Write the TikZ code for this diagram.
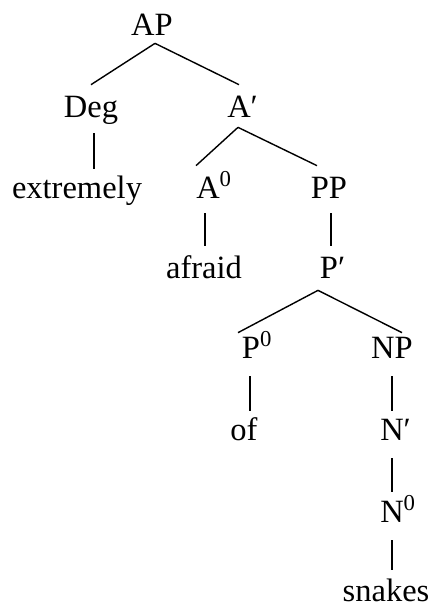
\documentclass[tikz,border=0pt]{standalone}
\usepackage{fontspec}
\setmainfont{Liberation Serif}
\begin{document}
\begin{tikzpicture}[
  x=0.02cm, y=-0.02cm,
  cat/.style={inner sep=0pt, anchor=base, text height=0.64cm, text depth=0.24cm,
              font=\fontsize{18.5}{22}\selectfont},
  branch/.style={line width=0.8pt}
]
\useasboundingbox (0,0) rectangle (433,606);
\node[cat] (ap) at (152,35) {AP};
\node[cat] (deg) at (91,117) {Deg};
\node[cat] (abar) at (239,117) {A\rlap{′}};
\node[cat] (extremely) at (77,198) {extremely};
\node[cat] (a0) at (208,198) {A\rlap{\textsuperscript{0}}};
\node[cat] (pp) at (329,198) {PP};
\node[cat] (afraid) at (204,278) {afraid};
\node[cat] (pbar) at (329,278) {P\rlap{′}};
\node[cat] (p0) at (251,358) {P\rlap{\textsuperscript{0}}};
\node[cat] (np) at (392,358) {NP};
\node[cat] (of) at (244,440) {of};
\node[cat] (nbar) at (392,440) {N\rlap{′}};
\node[cat] (n0) at (392,522) {N\rlap{\textsuperscript{0}}};
\node[cat] (snakes) at (386,601) {snakes};

\draw[branch] ([shift={(3,-4)}]ap.south) -- (deg.north);
\draw[branch] ([shift={(3,-4)}]ap.south) -- (abar.north);
\draw[branch] ([shift={(3,4)}]deg.south) -- ([shift={(3,3)}]deg.south |- extremely.north);
\draw[branch] ([shift={(-1,-2)}]abar.south) -- ([shift={(-12,0)}]a0.north);
\draw[branch] ([shift={(-1,-2)}]abar.south) -- ([shift={(-12,0)}]pp.north);
\draw[branch] ([shift={(-3,3)}]a0.south) -- ([shift={(-3,0)}]a0.south |- afraid.north);
\draw[branch] ([shift={(2,3)}]pp.south) -- ([shift={(2,0)}]pp.south |- pbar.north);
\draw[branch] ([shift={(-11,0)}]pbar.south) -- ([shift={(-13,7)}]p0.north);
\draw[branch] ([shift={(-11,0)}]pbar.south) -- ([shift={(10,7)}]np.north);
\draw[branch] ([shift={(-1,6)}]p0.south) -- ([shift={(-1,3)}]p0.south |- of.north);
\draw[branch] ([shift={(0,6)}]np.south) -- ([shift={(0,3)}]np.south |- nbar.north);
\draw[branch] ([shift={(0,6)}]nbar.south) -- ([shift={(0,2)}]nbar.south |- n0.north);
\draw[branch] ([shift={(0,6)}]n0.south) -- ([shift={(0,1)}]n0.south |- snakes.north);
\end{tikzpicture}
\end{document}
